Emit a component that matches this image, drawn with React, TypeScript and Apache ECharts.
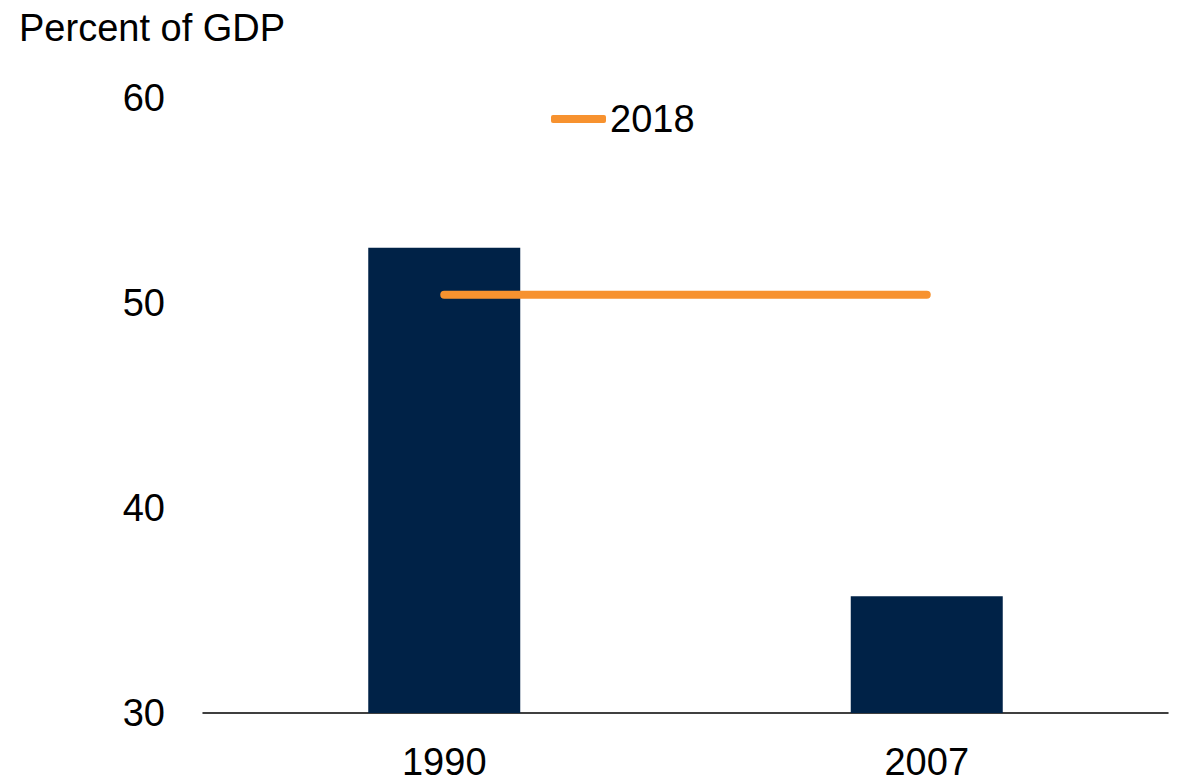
import React, { useEffect, useRef } from "react";
import * as echarts from "echarts";

const categories = ["1990", "2007"];
const barValues = [52.7, 35.7];
const line2018 = [50.4, 50.4];
const yTicks = [30, 40, 50, 60];

const FONT = "'Liberation Sans Narrow', 'Arial Narrow', 'Liberation Sans', sans-serif";
const FS = 38;

export default function App() {
  const ref = useRef<HTMLDivElement>(null);
  useEffect(() => {
    document.body.style.margin = "0";
    const chart = echarts.init(ref.current!, null, { renderer: "svg" });
    chart.setOption({
      animation: false,
      backgroundColor: "#ffffff",
      textStyle: { fontFamily: FONT },
      title: {
        text: "Percent of GDP",
        left: 14,
        top: 4,
        padding: 5,
        textStyle: { fontFamily: FONT, fontSize: FS, fontWeight: "normal", color: "#000" },
      },
      legend: {
        data: [{ name: "2018", icon: "roundRect" }],
        left: 546,
        top: 95,
        itemWidth: 55,
        itemHeight: 8,
        itemStyle: { color: "#F7922F" },
        textStyle: { fontFamily: FONT, fontSize: FS, color: "#000", padding: [0, 0, 0, -1] },
      },
      grid: { left: 203, right: 10, top: 98, bottom: 70 },
      xAxis: {
        type: "category",
        data: categories,
        axisLine: { lineStyle: { color: "#000", width: 1.5 } },
        axisTick: { show: false },
        axisLabel: { fontFamily: FONT, fontSize: FS, lineHeight: 38, color: "#000", margin: 30 },
      },
      yAxis: {
        type: "value",
        min: yTicks[0],
        max: yTicks[yTicks.length - 1],
        interval: 10,
        splitLine: { show: false },
        axisLine: { show: false },
        axisTick: { show: false },
        axisLabel: { fontFamily: FONT, fontSize: FS, color: "#000", margin: 38 },
      },
      series: [
        {
          name: "Share",
          type: "bar",
          data: barValues,
          barWidth: 152,
          itemStyle: { color: "#002247" },
        },
        {
          name: "2018",
          type: "line",
          data: line2018,
          symbol: "none",
          lineStyle: { color: "#F7922F", width: 8, cap: "round" },
          itemStyle: { color: "#F7922F" },
        },
      ],
    });
    return () => chart.dispose();
  }, []);
  return <div ref={ref} style={{ width: 1178, height: 783 }} />;
}
